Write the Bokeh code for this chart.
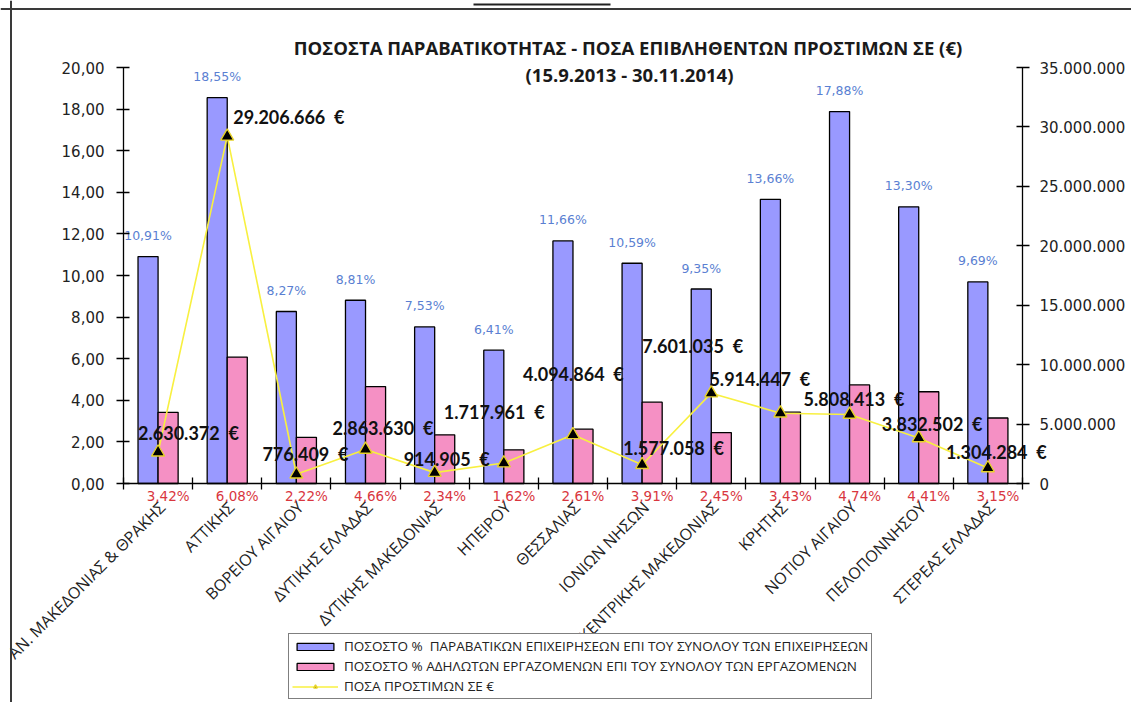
import math
from bokeh.plotting import figure
from bokeh.models import (ColumnDataSource, Range1d, LinearAxis, FixedTicker,
                          Legend, LegendItem, Label, Span, BoxAnnotation)
from bokeh.core.properties import value
from bokeh.embed import file_html
from bokeh.resources import INLINE

# ---------------- data ----------------
regions = ["ΑΝ. ΜΑΚΕΔΟΝΙΑΣ & ΘΡΑΚΗΣ", "ΑΤΤΙΚΗΣ", "ΒΟΡΕΙΟΥ ΑΙΓΑΙΟΥ", "ΔΥΤΙΚΗΣ ΕΛΛΑΔΑΣ",
           "ΔΥΤΙΚΗΣ ΜΑΚΕΔΟΝΙΑΣ", "ΗΠΕΙΡΟΥ", "ΘΕΣΣΑΛΙΑΣ", "ΙΟΝΙΩΝ ΝΗΣΩΝ",
           "ΚΕΝΤΡΙΚΗΣ ΜΑΚΕΔΟΝΙΑΣ", "ΚΡΗΤΗΣ", "ΝΟΤΙΟΥ ΑΙΓΑΙΟΥ", "ΠΕΛΟΠΟΝΝΗΣΟΥ", "ΣΤΕΡΕΑΣ ΕΛΛΑΔΑΣ"]
pct_violating = [10.91, 18.55, 8.27, 8.81, 7.53, 6.41, 11.66, 10.59, 9.35, 13.66, 17.88, 13.30, 9.69]
pct_undeclared = [3.42, 6.08, 2.22, 4.66, 2.34, 1.62, 2.61, 3.91, 2.45, 3.43, 4.74, 4.41, 3.15]
fines_eur = [2630372, 29206666, 776409, 2863630, 914905, 1717961, 4094864, 1577058,
             7601035, 5914447, 5808413, 3832502, 1304284]
left_ticks = [0, 2, 4, 6, 8, 10, 12, 14, 16, 18, 20]
right_ticks = [0, 5000000, 10000000, 15000000, 20000000, 25000000, 30000000, 35000000]

series_names = ["ΠΟΣΟΣΤΟ %  ΠΑΡΑΒΑΤΙΚΩΝ ΕΠΙΧΕΙΡΗΣΕΩΝ ΕΠΙ ΤΟΥ ΣΥΝΟΛΟΥ ΤΩΝ ΕΠΙΧΕΙΡΗΣΕΩΝ",
                "ΠΟΣΟΣΤΟ % ΑΔΗΛΩΤΩΝ ΕΡΓΑΖΟΜΕΝΩΝ ΕΠΙ ΤΟΥ ΣΥΝΟΛΟΥ ΤΩΝ ΕΡΓΑΖΟΜΕΝΩΝ",
                "ΠΟΣΑ ΠΡΟΣΤΙΜΩΝ ΣΕ €"]
title_text = "ΠΟΣΟΣΤΑ ΠΑΡΑΒΑΤΙΚΟΤΗΤΑΣ - ΠΟΣΑ ΕΠΙΒΛΗΘΕΝΤΩΝ ΠΡΟΣΤΙΜΩΝ ΣΕ (€)"
subtitle_text = "(15.9.2013 - 30.11.2014)"

# label placement (pixel offsets of the euro labels, style only)
fine_dx = [-20, 6, -34, -33, -31, -60, -50, -19, -69, -71, -46, -37, -42]
fine_dy = [-19, -19, -20, -21, -14, -51, -61, -17, -47, -34, -15, -14, -16]

# ---------------- layout (pixels) ----------------
FIG_W, FIG_H = 1131, 702
X0 = 123          # x of the left value axis
CW = 69.15        # width of one category
Y0 = 483          # y of the zero line
PH = 416          # height of the value area
LMAX, RMAX = 20, 35000000
N = len(regions)

def px_x(px):   # pixel -> category units
    return (px - X0) / CW

def py_l(py):   # pixel -> left axis units
    return (Y0 - py) / PH * LMAX

def py_r(py):
    return (Y0 - py) / PH * RMAX

def fmt_pct(v):
    return f"{v:.2f}".replace(".", ",") + "%"

def fmt_eur(v):
    return f"{v:,}".replace(",", ".") + " \u00a0€"

idx = list(range(N))
xc = [i + 0.5 for i in idx]
off, bw = 0.145, 0.29

src = ColumnDataSource(dict(
    xc=xc,
    xb=[x - off for x in xc],
    xp=[x + off for x in xc],
    cat=regions,
    viol=pct_violating,
    undecl=pct_undeclared,
    fines=fines_eur,
    zero=[0] * N,
    viol_lbl=[fmt_pct(v) for v in pct_violating],
    undecl_lbl=[fmt_pct(v) for v in pct_undeclared],
    fine_lbl=[fmt_eur(v) for v in fines_eur],
    fdx=fine_dx,
    fdy=fine_dy,
))

p = figure(width=FIG_W, height=FIG_H,
           x_range=Range1d(px_x(0), px_x(FIG_W)),
           y_range=Range1d(py_l(FIG_H), py_l(0)),
           output_backend="svg", toolbar_location=None,
           x_axis_location=None, y_axis_location=None,
           min_border=0, min_border_left=0, min_border_right=0,
           min_border_top=0, min_border_bottom=0)
p.extra_y_ranges = {"right": Range1d(py_r(FIG_H), py_r(0))}
p.title.visible = False
p.xgrid.visible = False
p.ygrid.visible = False
p.outline_line_color = None
p.background_fill_color = "white"
p.border_fill_color = "white"

# page frame lines (left and top) and the short heading rule
p.add_layout(Span(location=px_x(10.5), dimension="height", line_color="#3a3a3a", line_width=2))
p.add_layout(Span(location=py_l(8.5), dimension="width", line_color="#3a3a3a", line_width=2))
p.add_layout(BoxAnnotation(left=px_x(473), right=px_x(610), top=py_l(3), bottom=py_l(5),
                           fill_color="#222222", fill_alpha=1.0, line_color=None))

# titles
p.add_layout(Label(x=px_x(627.5), y=py_l(47), text=title_text,
                   text_font="Open Sans", text_font_size="18.5px", text_font_style="bold",
                   text_color="#1a1a1a", text_align="center", text_baseline="middle"))
p.add_layout(Label(x=px_x(629), y=py_l(74), text=subtitle_text,
                   text_font="Open Sans", text_font_size="18.5px", text_font_style="bold",
                   text_color="#1a1a1a", text_align="center", text_baseline="middle"))

blue = "#9999FF"
pink = "#F590C4"
r_blue = p.vbar(x="xb", top="viol", width=bw, source=src,
                fill_color=blue, line_color="black", line_width=1.3)
r_pink = p.vbar(x="xp", top="undecl", width=bw, source=src,
                fill_color=pink, line_color="black", line_width=1.3)

r_line = p.line(x="xc", y="fines", source=src, y_range_name="right",
                line_color="#F8F040", line_width=1.6)
r_mark = p.scatter(x="xc", y="fines", source=src, y_range_name="right", marker="triangle",
                   size=13, fill_color="black", line_color="#E6D22A", line_width=1.4)

# axes drawn at fixed data locations
xa = LinearAxis(fixed_location=0, bounds=(0, N), ticker=FixedTicker(ticks=list(range(N + 1))))
xa.major_label_text_font_size = "0px"
xa.major_label_text_alpha = 0
xa.major_tick_in = 6
xa.major_tick_out = 6
p.add_layout(xa, "below")

ya = LinearAxis(fixed_location=0, bounds=(0, LMAX), ticker=FixedTicker(ticks=left_ticks))
ya.major_label_overrides = {t: f"{t:.2f}".replace(".", ",") for t in left_ticks}
p.add_layout(ya, "left")

ra = LinearAxis(y_range_name="right", fixed_location=N, bounds=(0, RMAX),
                ticker=FixedTicker(ticks=right_ticks))
ra.major_label_overrides = {t: (f"{t:,}".replace(",", ".") if t else "0") for t in right_ticks}
p.add_layout(ra, "right")

for ax in (xa, ya, ra):
    ax.axis_line_color = "black"
    ax.axis_line_width = 1.3
    ax.major_tick_line_color = "black"
    ax.major_tick_line_width = 1.3
    ax.minor_tick_line_color = None
for ax in (ya, ra):
    ax.major_tick_in = 6
    ax.major_tick_out = 7
    ax.major_label_text_font = "DejaVu Sans"
    ax.major_label_text_font_size = "15px"
    ax.major_label_text_color = "#222222"
ya.major_label_standoff = 12
ra.major_label_standoff = 10

# value labels
p.text(x="xb", y="viol", text="viol_lbl", source=src,
       y_offset=-21, text_align="center", text_baseline="middle",
       text_font=value("DejaVu Sans"), text_font_size="12.5px", text_color="#5A7FD2")
p.text(x="xp", y="zero", text="undecl_lbl", source=src,
       y_offset=12, text_align="center", text_baseline="middle",
       text_font=value("DejaVu Sans"), text_font_size="13.5px", text_color="#D9363E")
p.text(x="xc", y="fines", text="fine_lbl", source=src, y_range_name="right",
       x_offset="fdx", y_offset="fdy", text_align="left", text_baseline="middle",
       text_font=value("Lato"), text_font_size="18px", text_font_style="bold",
       text_color="#111111")

# category names, rotated
p.text(x="xc", y="zero", text="cat", source=src, angle=math.pi / 4,
       x_offset=4, y_offset=21, text_align="right", text_baseline="middle",
       text_font=value("Open Sans"), text_font_size="16px", text_color="#222222")

legend = Legend(items=[LegendItem(label=series_names[0], renderers=[r_blue]),
                       LegendItem(label=series_names[1], renderers=[r_pink]),
                       LegendItem(label=series_names[2], renderers=[r_line, r_mark])],
                location=(288, 3), orientation="vertical",
                label_text_font="Open Sans", label_text_font_size="13.5px",
                label_text_color="#222222", glyph_width=46, glyph_height=9,
                label_standoff=6, spacing=2, padding=3, margin=0,
                border_line_color="black", border_line_width=1.2,
                background_fill_color="white", background_fill_alpha=1.0,
                label_height=15)
p.add_layout(legend, "center")

open("out.html", "w").write(file_html(p, INLINE))
